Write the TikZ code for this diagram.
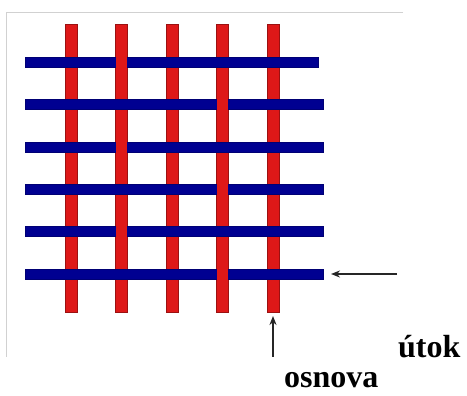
\documentclass[tikz,border=0pt]{standalone}
\usepackage{fontspec}
\setmainfont{Liberation Serif}
\usetikzlibrary{arrows.meta}
\definecolor{warpred}{RGB}{222,24,24}
\definecolor{weftblue}{RGB}{0,0,145}

\begin{document}
\begin{tikzpicture}[x=1pt,y=-1pt,
    warp/.style={fill=warpred, draw=warpred!70!black, line width=0.6pt},
    weft/.style={fill=weftblue, draw=weftblue!80!black, line width=0.6pt},
    pointer/.style={-{Stealth[length=9pt,width=7pt]}, line width=1.6pt, black!85},
    label/.style={anchor=base west, inner sep=0pt, font=\fontsize{32}{32}\selectfont\bfseries}]
        \useasboundingbox (0,0) rectangle (467,396);
        % frame
        \draw[black!18, line width=0.8pt] (403,12) -- (6,12) -- (6,357);
        % warp threads
        \foreach \x in {71,121.5,172,222.5,273}
            \path[warp] (\x-6,24) rectangle (\x+6,312);
        % weft threads
        \foreach \y/\e in {62/318,104.5/323,147/323,189/323,231.5/323,274/323}
            \path[weft] (25,\y-5) rectangle (\e,\y+5);
        % warp over weft
        \foreach \x/\y in {121.5/62,121.5/147,121.5/231.5,222.5/104.5,222.5/189,222.5/274}
            \fill[warpred] (\x-5.7,\y-5.6) rectangle (\x+5.7,\y+5.6);
        % labels and pointers
        \node[label] (utok) at (398,357) {útok};
        \node[label] (osnova) at (284,388) {osnova};
        \coordinate (weftstart) at (397,274);
        \coordinate (weftend) at (331,274);
        \coordinate (warpstart) at (273,357);
        \coordinate (warpend) at (273,316);
        \draw[pointer] (weftstart) -- (weftend);
        \draw[pointer] (warpstart) -- (warpend);
    \end{tikzpicture}
\end{document}
